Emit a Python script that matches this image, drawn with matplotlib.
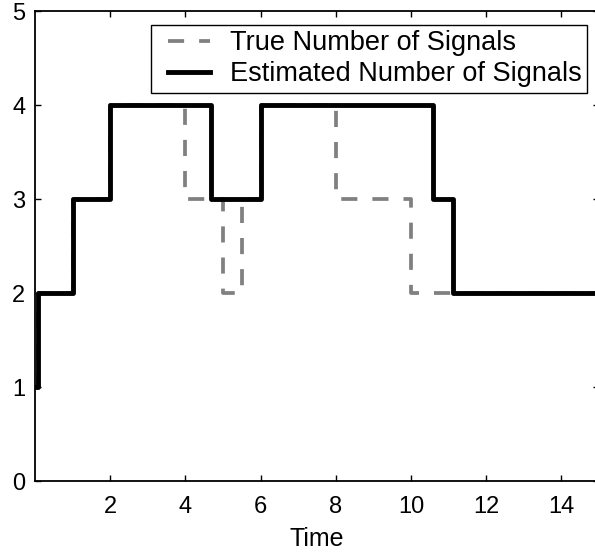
import matplotlib
matplotlib.use('Agg')
import matplotlib.pyplot as plt
from matplotlib.legend_handler import HandlerLine2D

plt.rcParams['font.family'] = ['Liberation Sans', 'DejaVu Sans']

# step change times and levels (value holds until next time)
true_times = [0, 0.07, 1, 2, 4, 5, 5.5, 6, 8, 10, 15]
true_counts = [1, 2, 3, 4, 3, 2, 3, 4, 3, 2, 2]
est_times = [0, 0.07, 1, 2, 4.67, 6.02, 10.58, 11.13, 15]
est_counts = [1, 2, 3, 4, 3, 4, 3, 2, 2]

xticks = [2, 4, 6, 8, 10, 12, 14]
yticks = [0, 1, 2, 3, 4, 5]

fig = plt.figure(figsize=(5.95, 5.54), dpi=100)
# axes right edge lies just past the figure, as in the cropped original
ax = fig.add_axes([35 / 595, 73 / 554, 564 / 595, 470 / 554])

l_true, = ax.step(true_times, true_counts, where='post', color='#808080', lw=2.7,
                  dashes=(4.3, 4.0), label='True Number of Signals')
l_est, = ax.step(est_times, est_counts, where='post', color='black', lw=3.5,
                 label='Estimated Number of Signals')

ax.set_xlim(0, 15)
ax.set_ylim(0, 5)
ax.set_xticks(xticks)
ax.set_yticks(yticks)
ax.tick_params(direction='in', top=True, right=True, length=4, width=1,
               labelsize=17, pad=7)
ax.tick_params(axis='x', pad=11)
for s in ax.spines.values():
    s.set_linewidth(1.3)
ax.set_xlabel('Time', fontsize=18, labelpad=6)

hmap = {l_true: HandlerLine2D(xpad=0.42), l_est: HandlerLine2D(xpad=0.42)}
leg = ax.legend(loc='upper right', bbox_to_anchor=(552 / 564, 456 / 470),
                fontsize=19.5, frameon=True, fancybox=False, framealpha=1,
                edgecolor='black', handlelength=2.0, borderaxespad=0,
                borderpad=0.2, labelspacing=0.18, handletextpad=0.72,
                handler_map=hmap)
leg.get_frame().set_linewidth(1.0)

fig.savefig('out.png', dpi=100)
